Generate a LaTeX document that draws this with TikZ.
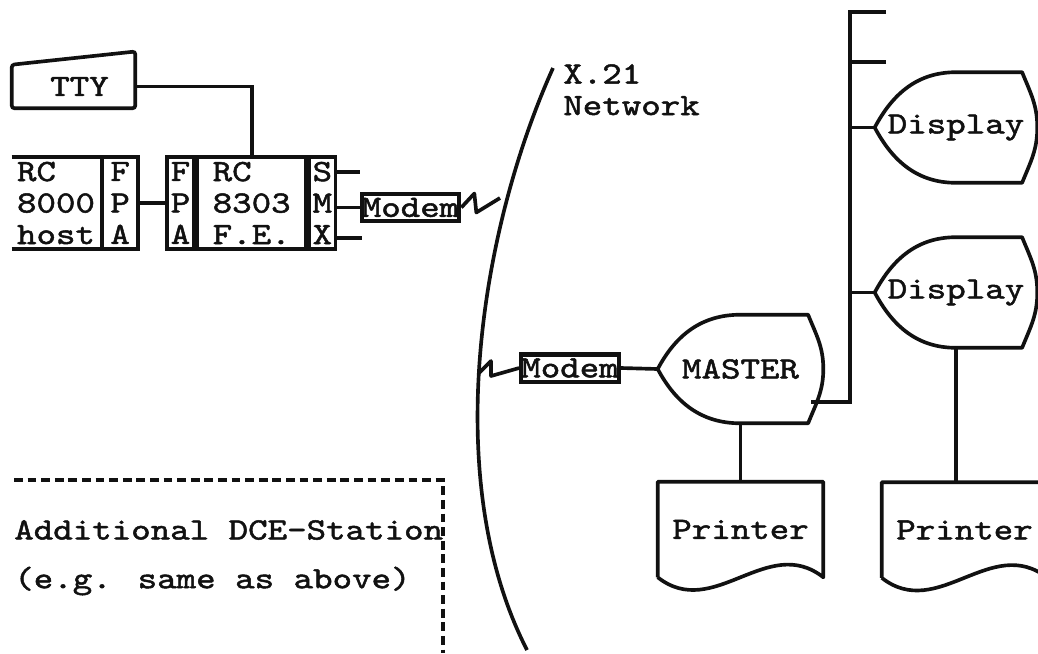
\documentclass[tikz,border=0pt]{standalone}
\usepackage{fontspec}
\newfontfamily\typew{lmmono10-regular.otf}[FakeBold=1.6, FakeStretch=1.2]
\usetikzlibrary{positioning}
\definecolor{Ink}{HTML}{111111}
\tikzset{
  tw/.style={font=\typew\fontsize{22}{22.4}\selectfont, text=Ink},
  wire/.style={line width=2.6pt, draw=Ink},
  dashwire/.style={line width=2.6pt, draw=Ink, dash pattern=on 0.22cm off 0.12cm},
  unit/.style={tw, draw=Ink, line width=2.6pt, minimum height=2.3cm,
    inner sep=0pt, align=center},
  modem/.style={tw, draw=Ink, line width=3pt, minimum width=2.43cm,
    minimum height=0.68cm, inner sep=0pt},
  terminal/.style={tw, minimum width=3.075cm, minimum height=1.075cm, inner sep=0pt,
    append after command={\pgfextra{\draw[wire, rounded corners=2pt]
      (\tikzlastnode.south west) -- (\tikzlastnode.north west)
      -- ([yshift=0.33cm]\tikzlastnode.north east)
      -- (\tikzlastnode.south east) -- cycle;}}},
  display/.style={tw, minimum width=4.05cm, minimum height=2.75cm, inner sep=0pt,
    append after command={\pgfextra{\draw[wire, line join=round]
      (\tikzlastnode.west) to[out=62,in=180] (\tikzlastnode.north)
      -- ([xshift=-0.38cm]\tikzlastnode.north east) to[out=-68,in=90] (\tikzlastnode.east)
      to[out=-90,in=68] ([xshift=-0.38cm]\tikzlastnode.south east)
      -- (\tikzlastnode.south) to[out=180,in=-62] (\tikzlastnode.west);}}},
  printer/.style={tw, minimum width=4.125cm, minimum height=2.375cm, inner sep=0pt,
    append after command={\pgfextra{\draw[wire, line join=round]
      (\tikzlastnode.south west) -- (\tikzlastnode.north west)
      -- (\tikzlastnode.north east) -- (\tikzlastnode.south east)
      .. controls ([xshift=-1.4cm,yshift=1.1cm]\tikzlastnode.south east)
      and ([xshift=1.4cm,yshift=-1.1cm]\tikzlastnode.south west)
      .. (\tikzlastnode.south west);}}}
}

\begin{document}
\begin{tikzpicture}[x=0.025cm, y=-0.025cm]
  \useasboundingbox (0,0) rectangle (1038,653);

  % host side
  \node[terminal] (tty) at (73.5,86.5) {\hspace*{0.3cm}TTY};
  \node[tw, minimum width=2.2cm, minimum height=2.3cm, inner sep=0pt, align=left] (host) at (56,203) {RC\\8000\\host};
  \node[unit, minimum width=0.9cm, right=0pt of host] (hostfpa) {F\\P\\A};
  \node[unit, minimum width=0.675cm] (fefpa) at (180.5,203) {F\\P\\A};
  \node[unit, minimum width=2.7cm, align=left, right=0pt of fefpa] (fe) {RC\\8303\\F.E.};
  \node[unit, minimum width=0.65cm, right=0pt of fe] (smx) {S\\M\\X};
  \node[modem] (modem1) at (410.5,207.5) {Modem};
  \coordinate (sEnd) at (360,172);
  \coordinate (xEnd) at (362,238);
  \coordinate (hit1) at (500,198);

  \draw[wire] (host.north west) -- (host.north east);
  \draw[wire] (host.south west) -- (host.south east);
  \draw[wire] (hostfpa.east) -- (fefpa.west);
  \draw[wire] (tty.east) -| (fe.north);
  \draw[wire] (smx.east |- sEnd) -- (sEnd);
  \draw[wire] (smx.east |- xEnd) -- (xEnd);
  \draw[wire] (smx.east |- modem1.west) -- (modem1.west);
  \draw[wire, line join=round] (modem1.east) -- ++(13,-14) -- ++(2,19) -- (hit1);

  % network
  \draw[wire] (553,68) .. controls (480,230) and (440,480) .. (527,650);
  \node[tw, anchor=north west, align=left, inner sep=0pt] (netlabel) at (563,64) {X.21\\Network};

  % terminal side
  \node[modem] (modem2) at (570,368) {Modem};
  \node[display, minimum width=4.125cm, minimum height=2.7cm] (master) at (740.5,369) {MASTER};
  \node[display] (disp1) at (956,127.5) {Display};
  \node[display] (disp2) at (956,292.5) {Display};
  \node[printer] (prn1) at (740.5,529.5) {Printer};
  \node[printer] (prn2) at (964.5,530) {Printer};
  \coordinate (hit2) at (479,373);
  \coordinate (busTop) at (850,12);
  \coordinate (busBot) at (850,402);
  \coordinate (stubA) at (886,12);
  \coordinate (stubB) at (886,62);

  \draw[wire, line join=round] (hit2) -- ++(12,-12) -- ++(0,15) -- (modem2.west);
  \draw[wire] (modem2.east) -- (master.west);
  \draw[wire] (stubA) -- (busTop) -- (busBot) -- ([xshift=-0.3cm]busBot -| master.east);
  \draw[wire] (stubB) -- (stubB -| busTop);
  \draw[wire] (disp1.west) -- (disp1.west -| busTop);
  \draw[wire] (disp2.west) -- (disp2.west -| busTop);
  \draw[wire] (master.south) -- (prn1.north);
  \draw[wire] (disp2.south) -- (disp2.south |- prn2.north);

  % additional station
  \coordinate (dashL) at (14,480);
  \coordinate (dashC) at (443,480);
  \coordinate (dashB) at (443,653);
  \draw[dashwire] (dashL) -- (dashC) -- (dashB);
  \node[tw, anchor=west, inner sep=0pt] (addl) at (14,530) {Additional DCE-Station};
  \node[tw, anchor=west, inner sep=0pt] (addl2) at (14,581) {(e.g. same as above)};
\end{tikzpicture}
\end{document}
